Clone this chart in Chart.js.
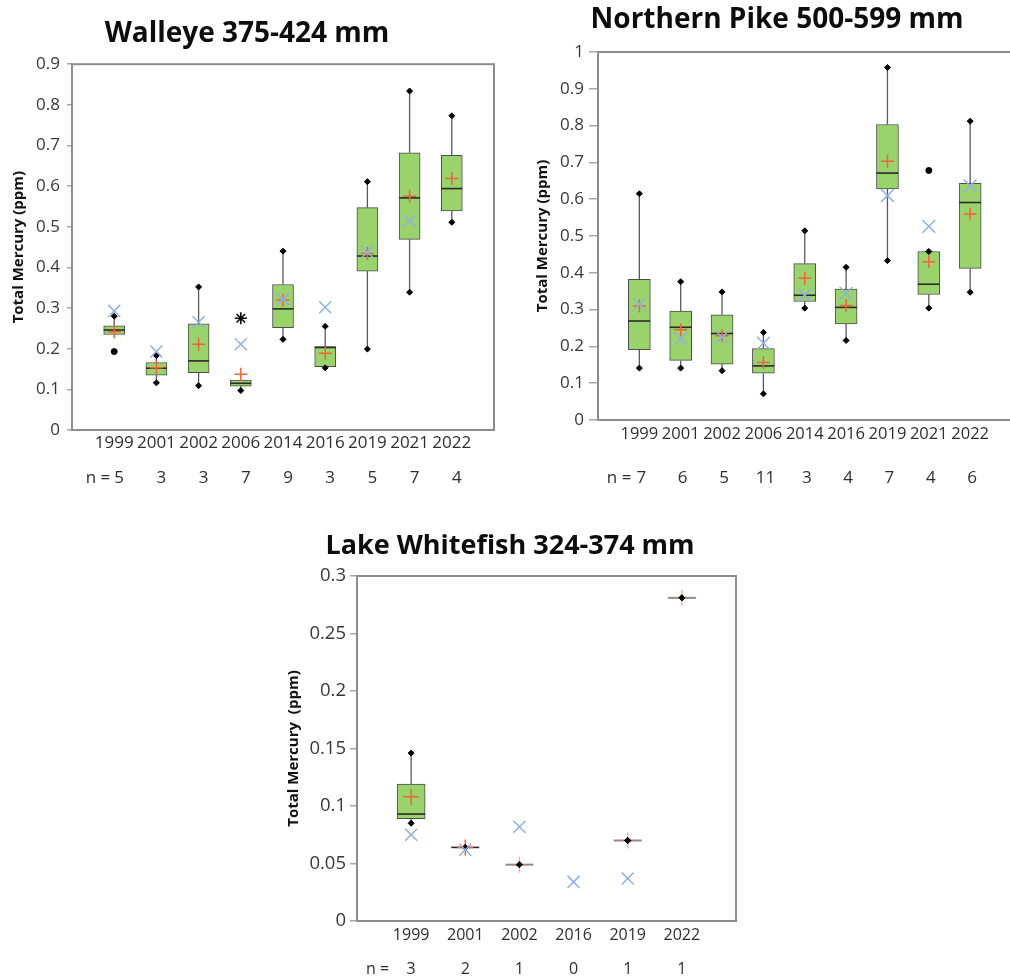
<!DOCTYPE html>
<html>
<head>
<meta charset="utf-8">
<script src="https://cdn.jsdelivr.net/npm/chart.js@4.4.1/dist/chart.umd.min.js"></script>
<style>
  html, body { margin: 0; padding: 0; background: #fff; overflow: hidden; width: 1010px; height: 979px; }
  canvas { position: absolute; }
  #walleye { left: 0; top: 0; }
  #pike { left: 532px; top: 0; }
  #whitefish { left: 276px; top: 520px; }
</style>
</head>
<body>
<canvas id="walleye" width="505" height="500"></canvas>
<canvas id="pike" width="490" height="500"></canvas>
<canvas id="whitefish" width="470" height="459"></canvas>
<script>
const FONT = "'Open Sans', sans-serif";

// Walleye 375-424 mm
const walleyeYears = ['1999', '2001', '2002', '2006', '2014', '2016', '2019', '2021', '2022'];
const walleyeN     = [5, 3, 3, 7, 9, 3, 5, 7, 4];
const walleyeQ1    = [0.235, 0.135, 0.141, 0.108, 0.252, 0.156, 0.391, 0.469, 0.539];
const walleyeQ3    = [0.256, 0.166, 0.261, 0.123, 0.358, 0.205, 0.547, 0.682, 0.676];
const walleyeMed   = [0.246, 0.152, 0.170, 0.115, 0.298, 0.203, 0.428, 0.571, 0.594];
const walleyeLo    = [null, 0.116, 0.109, 0.097, 0.223, 0.153, 0.199, 0.339, 0.511];
const walleyeHi    = [0.280, 0.183, 0.352, null, 0.440, 0.255, 0.611, 0.834, 0.773];
const walleyeMean  = [0.242, 0.153, 0.211, 0.137, 0.320, 0.189, 0.434, 0.575, 0.619];
const walleyeBlue  = [0.293, 0.193, 0.265, 0.211, 0.322, 0.302, 0.438, 0.515, null];
const walleyeOutliers = [{ year: '1999', value: 0.193 }];
const walleyeStars    = [{ year: '2006', value: 0.275 }];

// Northern Pike 500-599 mm
const pikeYears = ['1999', '2001', '2002', '2006', '2014', '2016', '2019', '2021', '2022'];
const pikeN     = [7, 6, 5, 11, 3, 4, 7, 4, 6];
const pikeQ1    = [0.191, 0.162, 0.152, 0.127, 0.322, 0.261, 0.628, 0.341, 0.412];
const pikeQ3    = [0.382, 0.296, 0.286, 0.194, 0.425, 0.356, 0.803, 0.458, 0.643];
const pikeMed   = [0.269, 0.252, 0.235, 0.147, 0.339, 0.306, 0.671, 0.369, 0.591];
const pikeLo    = [0.141, 0.141, 0.134, 0.071, 0.304, 0.216, 0.433, 0.304, 0.347];
const pikeHi    = [0.615, 0.376, 0.348, 0.238, 0.514, 0.415, 0.958, 0.458, 0.812];
const pikeMean  = [0.310, 0.245, 0.229, 0.156, 0.385, 0.311, 0.703, 0.430, 0.560];
const pikeBlue  = [0.314, 0.221, 0.225, 0.209, 0.339, 0.344, 0.610, 0.526, 0.636];
const pikeOutliers = [{ year: '2021', value: 0.678 }];
const pikeStars    = [];

// Lake Whitefish 324-374 mm
const whitefishYears = ['1999', '2001', '2002', '2016', '2019', '2022'];
const whitefishN     = [3, 2, 1, 0, 1, 1];
const whitefishQ1    = [0.089, 0.064, 0.049, null, 0.070, 0.281];
const whitefishQ3    = [0.119, 0.064, 0.049, null, 0.070, 0.281];
const whitefishMed   = [0.093, 0.064, 0.049, null, 0.070, 0.281];
const whitefishLo    = [0.085, 0.064, 0.049, null, 0.070, 0.281];
const whitefishHi    = [0.146, 0.064, 0.049, null, 0.070, 0.281];
const whitefishMean  = [0.108, 0.064, 0.049, null, 0.070, 0.281];
const whitefishBlue  = [0.075, 0.062, 0.082, 0.034, 0.037, null];
const whitefishOutliers = [];
const whitefishStars    = [];

function boxChart(canvasId, d, s) {
  const xs = d.years.map((_, i) => i + 1);
  const pts = arr => xs.map((x, i) => ({ x: x, y: arr[i] }));
  const outPts = list => list.map(o => ({ x: d.years.indexOf(o.year) + 1, y: o.value }));
  const single = i => d.n[i] === 1;

  // whiskers, median lines, frame and the n = row
  const extras = {
    id: 'boxExtras',
    beforeDatasetsDraw(chart) {
      const { ctx, scales: { x, y } } = chart;
      ctx.save();
      ctx.strokeStyle = '#5a5a5a';
      ctx.lineWidth = 1.3;
      xs.forEach((v, i) => {
        const px = x.getPixelForValue(v);
        [[d.q3[i], d.hi[i]], [d.q1[i], d.lo[i]]].forEach(([a, b]) => {
          if (a == null || b == null) return;
          ctx.beginPath();
          ctx.moveTo(px, y.getPixelForValue(a));
          ctx.lineTo(px, y.getPixelForValue(b));
          ctx.stroke();
        });
      });
      ctx.restore();
    },
    afterDatasetDraw(chart, args) {
      if (args.meta.type !== 'bar') return;
      const { ctx, scales: { x, y } } = chart;
      ctx.save();
      xs.forEach((v, i) => {
        if (d.med[i] == null) return;
        const px = x.getPixelForValue(v);
        const py = y.getPixelForValue(d.med[i]);
        ctx.strokeStyle = single(i) ? '#8c8c8c' : '#2b2b2b';
        ctx.lineWidth = single(i) ? 2 : 1.6;
        ctx.beginPath();
        ctx.moveTo(px - s.boxW / 2, py);
        ctx.lineTo(px + s.boxW / 2, py);
        ctx.stroke();
      });
      ctx.restore();
    },
    afterDraw(chart) {
      const { ctx, chartArea: a, scales: { x } } = chart;
      ctx.save();
      ctx.strokeStyle = '#8c8c8c';
      ctx.lineWidth = 2;
      ctx.strokeRect(a.left, a.top, a.right - a.left, a.bottom - a.top);
      ctx.fillStyle = '#2e2e2e';
      ctx.font = s.nFont + 'px ' + FONT;
      ctx.textBaseline = 'middle';
      ctx.textAlign = 'center';
      xs.forEach((v, i) => ctx.fillText(String(d.n[i]), x.getPixelForValue(v) + s.nDx, s.nY));
      ctx.textAlign = 'right';
      ctx.fillText('n =', x.getPixelForValue(1) + s.nDx - s.nGap, s.nY);
      ctx.restore();
    }
  };

  return new Chart(document.getElementById(canvasId), {
    type: 'bar',
    data: {
      datasets: [
        { type: 'scatter', order: 1, data: pts(d.blue), pointStyle: 'crossRot', pointRadius: s.blueR,
          borderColor: '#8fb0e3', borderWidth: 1.5 },
        { type: 'scatter', order: 2, data: pts(d.lo).concat(pts(d.hi)), pointStyle: 'rectRot', pointRadius: 3,
          backgroundColor: '#000', borderColor: '#000', borderWidth: 1 },
        { type: 'scatter', order: 2, data: outPts(d.outliers), pointStyle: 'circle', pointRadius: 3,
          backgroundColor: '#000', borderColor: '#000', borderWidth: 1 },
        { type: 'scatter', order: 2, data: outPts(d.stars), pointStyle: 'star', pointRadius: 6,
          borderColor: '#000', borderWidth: 1.5 },
        { type: 'scatter', order: 3, data: pts(d.mean), pointStyle: 'cross', pointRadius: s.meanR,
          borderColor: ctx => single(ctx.dataIndex) ? 'rgba(240,110,110,0.55)' : '#f0643c', borderWidth: 1.5 },
        { type: 'bar', order: 5,
          data: xs.map((x, i) => ({ x: x, y: d.q1[i] == null ? null : [d.q1[i], d.q3[i]] })),
          backgroundColor: '#9ad26b', borderColor: '#4d4d4d', borderWidth: 1, borderSkipped: false,
          barThickness: s.boxW }
      ]
    },
    options: {
      responsive: false,
      animation: false,
      layout: { padding: { left: 0, right: s.padR, top: 0, bottom: 0 } },
      plugins: {
        legend: { display: false },
        tooltip: { enabled: false },
        title: {
          display: true, text: s.title, color: '#0d0d0d',
          font: { family: FONT, size: s.titleSize, weight: 'bold' },
          padding: { top: s.titleTop, bottom: s.titleBottom }
        }
      },
      scales: {
        x: {
          type: 'linear', min: 0, max: xs.length + 1, offset: false,
          afterBuildTicks: sc => { sc.ticks = xs.map(v => ({ value: v })); },
          ticks: {
            autoSkip: false, maxRotation: 0, color: '#2e2e2e', padding: s.xPad,
            font: { family: FONT, size: s.xFont },
            callback: v => d.years[v - 1] || ''
          },
          grid: { display: false, drawTicks: false },
          border: { display: false },
          afterFit: sc => { sc.height = s.xAxisH; }
        },
        y: {
          min: 0, max: s.yMax,
          ticks: {
            stepSize: s.yStep, color: '#383838', padding: s.yPad,
            font: { family: FONT, size: s.yFont },
            callback: v => String(+v.toFixed(2))
          },
          grid: { display: true, drawOnChartArea: false, drawTicks: true, tickLength: s.tickLen, color: '#a6a6a6', lineWidth: 1.5 },
          border: { display: false },
          title: {
            display: true, text: s.yTitle, color: '#111',
            font: { family: FONT, size: 15, weight: 'bold' },
            padding: { top: s.yTitlePad, bottom: 0 }
          },
          afterFit: sc => { sc.width = s.yAxisW; }
        }
      }
    },
    plugins: [extras]
  });
}

boxChart('walleye', {
  years: walleyeYears, n: walleyeN, q1: walleyeQ1, q3: walleyeQ3, med: walleyeMed,
  lo: walleyeLo, hi: walleyeHi, mean: walleyeMean, blue: walleyeBlue,
  outliers: walleyeOutliers, stars: walleyeStars
}, {
  title: 'Walleye 375-424 mm', titleSize: 28, titleTop: 17.5, titleBottom: 13.1,
  yMax: 0.9, yStep: 0.1, yFont: 17, yPad: 7, tickLen: 5, yAxisW: 72,
  yTitle: 'Total Mercury (ppm)', yTitlePad: 9.6,
  xFont: 17, xPad: 3, xAxisH: 70, padR: 11,
  boxW: 21, meanR: 6.5, blueR: 8.5,
  nFont: 17, nY: 478, nDx: 5, nGap: 9
});

boxChart('pike', {
  years: pikeYears, n: pikeN, q1: pikeQ1, q3: pikeQ3, med: pikeMed,
  lo: pikeLo, hi: pikeHi, mean: pikeMean, blue: pikeBlue,
  outliers: pikeOutliers, stars: pikeStars
}, {
  title: 'Northern Pike 500-599 mm', titleSize: 28, titleTop: 3.7, titleBottom: 14.7,
  yMax: 1, yStep: 0.1, yFont: 17, yPad: 5, tickLen: 9, yAxisW: 66,
  yTitle: 'Total Mercury (ppm)', yTitlePad: 1.6,
  xFont: 16.5, xPad: 4.2, xAxisH: 80, padR: 0,
  boxW: 22, meanR: 6.5, blueR: 9,
  nFont: 17, nY: 478, nDx: 2, nGap: 10
});

boxChart('whitefish', {
  years: whitefishYears, n: whitefishN, q1: whitefishQ1, q3: whitefishQ3, med: whitefishMed,
  lo: whitefishLo, hi: whitefishHi, mean: whitefishMean, blue: whitefishBlue,
  outliers: whitefishOutliers, stars: whitefishStars
}, {
  title: 'Lake Whitefish 324-374 mm', titleSize: 27, titleTop: 9.8, titleBottom: 13.8,
  yMax: 0.3, yStep: 0.05, yFont: 18.5, yPad: 4, tickLen: 7, yAxisW: 81,
  yTitle: 'Total Mercury  (ppm)', yTitlePad: 8.6,
  xFont: 16, xPad: 4.4, xAxisH: 58, padR: 2,
  boxW: 28, meanR: 8, blueR: 8.5,
  nFont: 16, nY: 449, nDx: 0, nGap: 22
});
</script>
</body>
</html>
